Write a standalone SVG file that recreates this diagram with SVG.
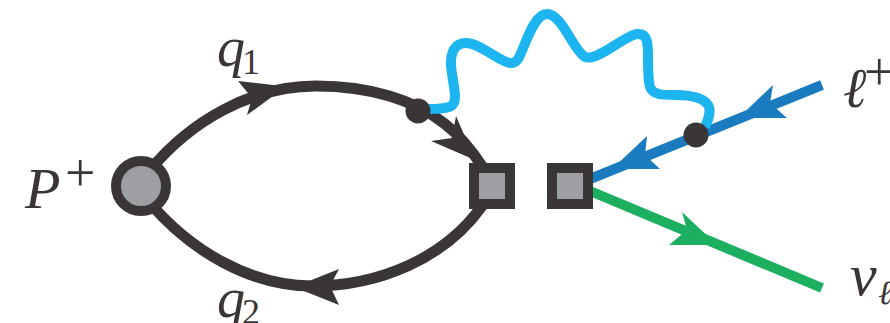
<svg xmlns="http://www.w3.org/2000/svg" width="890" height="323" viewBox="0 0 890 323">
<style>
.l{fill:none;stroke-linecap:butt}
.k{stroke:#3a3637;stroke-width:11}
.d{fill:#3a3637}
.g{fill:#9d9fa2;stroke:#3a3637;stroke-width:10}
.b{stroke:#1b7bbf;stroke-width:10}
.bf{fill:#1b7bbf}
.gr{stroke:#1caf5f;stroke-width:10}
.gf{fill:#1caf5f}
.w{stroke:#1cb5f0;stroke-width:10;stroke-linejoin:round}
text{font-family:"Liberation Serif","Times New Roman",serif;fill:#3a3637}
.i{font-style:italic;font-size:56px}
.s{font-size:36px}
.p{font-size:54px}
</style>
<rect width="890" height="323" fill="#ffffff"/>
<g id="connectors">
<path id="quark-top" class="l k" d="M150,170C190,122 250,86 316,86C370,86 415,100 445,124C458,134 470,148 482,166"/>
<path id="quark-bottom" class="l k" d="M150,203C190,250 250,286 312,286C380,286 445,258 482,206"/>
<path id="lepton" class="l b" d="M590,179L822,85"/>
<path id="neutrino" class="l gr" d="M590,191L822,288"/>
<path id="photon" class="l w" d="M428,109C438,109 446,108 449,107C455,105 455,100 455,95C454,82 450,68 451,60C452,48 458,43 466,43C480,43 500,62 510,63C518,64 520,55 524,46C530,31 537,14 547,14C562,14 573,50 585,57C597,62 625,35 637,34C647,33 648,42 648,55C648,65 648,80 650,87C653,95 662,95 675,95C690,95 705,97 709,107C711,113 708,120 705,127"/>
<path class="d" d="M286,86.5L238,81L252,98L247,115Z"/>
<path class="d" d="M294,287L339,269L330,286L339,305Z"/>
<path class="d" d="M475,160L456,116L452,138L431,141Z"/>
<path class="bf" d="M738.5,118L773,85L770,103L787,118Z"/>
<path class="bf" d="M612,169L647,136L645,155L660,169Z"/>
<path class="gf" d="M717,245L682,212L687,230L669,245Z"/>
</g>
<g id="vertex-left"><circle class="d" cx="418" cy="111" r="12.5"/></g>
<g id="vertex-right"><circle class="d" cx="696" cy="135" r="12.5"/></g>
<g id="meson"><circle class="g" cx="141" cy="186" r="25"/><text class="i" style="font-size:58px" x="25" y="208">P</text><text class="p" x="65" y="191">+</text></g>
<g id="weak-left"><rect class="g" x="474" y="168" width="36" height="36"/></g>
<g id="weak-right"><rect class="g" x="552" y="168" width="36" height="36"/></g>
<g id="label-q1"><text class="i" x="217" y="66">q</text><text class="s" x="242" y="74">1</text></g>
<g id="label-q2"><text class="i" x="217" y="317">q</text><text class="s" x="242" y="324">2</text></g>
<g id="label-l"><text class="i" x="843" y="107">ℓ</text><text class="p" x="864" y="90">+</text></g>
<g id="label-nu"><text class="i" style="font-size:60px" x="850" y="295">ν</text><text class="i" style="font-size:34px" x="878" y="304">ℓ</text></g>
</svg>
